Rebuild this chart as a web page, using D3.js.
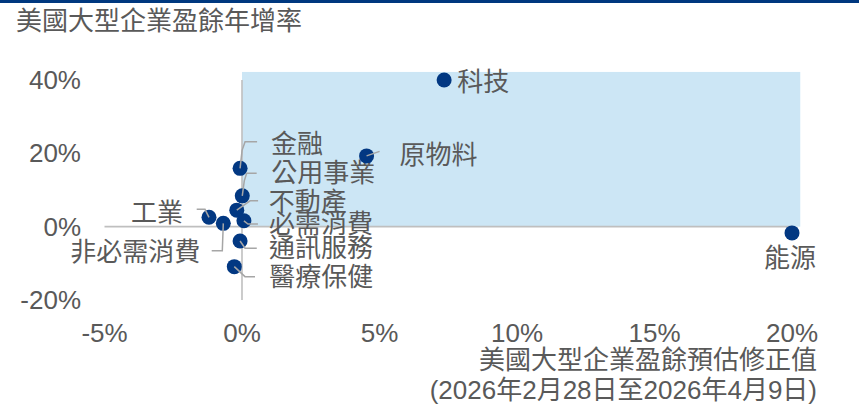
<!DOCTYPE html>
<html>
<head>
<meta charset="utf-8">
<script src="https://cdn.jsdelivr.net/npm/d3@7"></script>
<style>
  html, body { margin: 0; padding: 0; background: #fff; }
  svg { display: block; }
  text { font-family: "Liberation Sans", "Noto Sans CJK TC", sans-serif; fill: #595959; }
</style>
</head>
<body>
<div id="chart"></div>
<script>
// data: earnings revision (x, %) vs earnings growth (y, %)
const sectors = ["科技", "原物料", "金融", "公用事業", "不動產", "必需消費", "通訊服務", "醫療保健", "工業", "非必需消費", "能源"];
const revision = [7.35, 4.53, -0.07, 0.01, -0.19, 0.07, -0.07, -0.28, -1.2, -0.68, 20.0];
const growth = [40.0, 19.3, 15.9, 8.4, 4.5, 1.6, -3.9, -10.9, 2.55, 0.9, -1.7];

const xTicks = [-5, 0, 5, 10, 15, 20];
const yTicks = [-20, 0, 20, 40];
const shadeX = [0, 20.3];
const shadeY = [0, 42.2];

const title = "美國大型企業盈餘年增率";
const xTitle = ["美國大型企業盈餘預估修正值", "(2026年2月28日至2026年4月9日)"];

// label placement (pixel offsets from the point) and leader line elbows
const labelLayout = {
  "科技":     { dx: 13, dy: 2, anchor: "start", leader: [] },
  "原物料":   { dx: 33, dy: -1, anchor: "start", leader: [[0, 0], [13, -4.5]] },
  "金融":     { dx: 31, dy: -24, anchor: "start", leader: [[0, 0], [2, -18], [5, -26.6], [17, -26.6]] },
  "公用事業": { dx: 29, dy: -23, anchor: "start", leader: [[0, 0], [2, -15], [4.4, -22.7], [14.4, -22.7]] },
  "不動產":   { dx: 32, dy: -8, anchor: "start", leader: [[0, 0], [13.3, -9.3], [21.3, -9.3]] },
  "必需消費": { dx: 25, dy: 3, anchor: "start", leader: [[0, 0], [4, 3.3], [14, 3.3]] },
  "通訊服務": { dx: 29, dy: 7, anchor: "start", leader: [[0, 0], [5, 7.3], [16.7, 7.3]] },
  "醫療保健": { dx: 35, dy: 10, anchor: "start", leader: [[0, 0], [10.7, 10], [20.7, 10]] },
  "工業":     { dx: -26, dy: -4, anchor: "end", leader: [[0, 0], [-4, -8], [-12.3, -8]] },
  "非必需消費": { dx: -23, dy: 29, anchor: "end", leader: [[0, 0], [-1, 27.4], [-11.6, 27.4]] },
  "能源":     { dx: -2, dy: 25, anchor: "middle", leader: [] }
};

const width = 859, height = 407;
const fontSize = 26;

const svg = d3.select("#chart").append("svg")
  .attr("width", width)
  .attr("height", height);

// top rule
svg.append("rect")
  .attr("x", 0).attr("y", 0)
  .attr("width", width).attr("height", 3)
  .attr("fill", "#00387f");

svg.append("text")
  .attr("x", 16)
  .attr("y", 21)
  .attr("dominant-baseline", "central")
  .attr("font-size", fontSize)
  .text(title);

const x = d3.scaleLinear().domain([-5, 20]).range([104.5, 792]);
const y = d3.scaleLinear().domain([-20, 40]).range([300, 80]);

// shaded quadrant
svg.append("rect")
  .attr("x", x(shadeX[0]))
  .attr("y", y(shadeY[1]))
  .attr("width", x(shadeX[1]) - x(shadeX[0]))
  .attr("height", y(shadeY[0]) - y(shadeY[1]))
  .attr("fill", "#cce6f5");

// axis lines through zero
svg.append("line")
  .attr("x1", x(-5)).attr("x2", x(20))
  .attr("y1", y(0)).attr("y2", y(0))
  .attr("stroke", "#bfbfbf").attr("stroke-width", 1.6);

svg.append("line")
  .attr("x1", x(0)).attr("x2", x(0))
  .attr("y1", y(-20)).attr("y2", y(40))
  .attr("stroke", "#bfbfbf").attr("stroke-width", 1.6);

// tick labels
svg.append("g").selectAll("text")
  .data(xTicks)
  .enter().append("text")
  .attr("x", (d) => x(d))
  .attr("y", 333)
  .attr("text-anchor", "middle")
  .attr("dominant-baseline", "central")
  .attr("font-size", fontSize)
  .text((d) => d + "%");

svg.append("g").selectAll("text")
  .data(yTicks)
  .enter().append("text")
  .attr("x", 81)
  .attr("y", (d) => y(d))
  .attr("text-anchor", "end")
  .attr("dominant-baseline", "central")
  .attr("font-size", fontSize)
  .text((d) => d + "%");

// x axis title (two lines, right aligned)
xTitle.forEach((t, i) => {
  svg.append("text")
    .attr("x", 817)
    .attr("y", 360 + i * 30)
    .attr("text-anchor", "end")
    .attr("dominant-baseline", "central")
    .attr("font-size", fontSize)
    .text(t);
});

const points = sectors.map((s, i) => ({
  name: s,
  px: x(revision[i]),
  py: y(growth[i]),
  layout: labelLayout[s]
}));

// labels first, dots sit on top of them
svg.append("g").selectAll("text")
  .data(points)
  .enter().append("text")
  .attr("x", (d) => d.px + d.layout.dx)
  .attr("y", (d) => d.py + d.layout.dy)
  .attr("text-anchor", (d) => d.layout.anchor)
  .attr("dominant-baseline", "central")
  .attr("font-size", fontSize)
  .text((d) => d.name);

svg.append("g").selectAll("circle")
  .data(points)
  .enter().append("circle")
  .attr("cx", (d) => d.px)
  .attr("cy", (d) => d.py)
  .attr("r", 7.5)
  .attr("fill", "#023882");

const line = d3.line();
svg.append("g").selectAll("path")
  .data(points.filter((d) => d.layout.leader.length))
  .enter().append("path")
  .attr("d", (d) => line(d.layout.leader.map(([dx, dy]) => [d.px + dx, d.py + dy])))
  .attr("fill", "none")
  .attr("stroke", "#a6a6a6")
  .attr("stroke-width", 1.5);
</script>
</body>
</html>
